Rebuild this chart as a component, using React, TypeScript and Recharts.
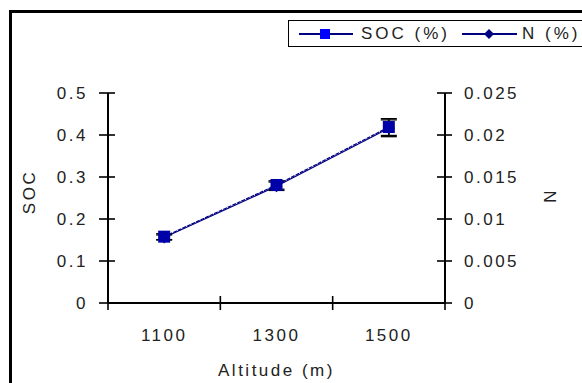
import React from 'react';
import { LineChart, Line, XAxis, YAxis, ErrorBar } from 'recharts';

// values
const altitudes = [1100, 1300, 1500];
const socValues = [0.158, 0.281, 0.419];
const socErrors = [0.007, 0.01, 0.02];
const nValues = [0.0078, 0.0139, 0.0208];
const nErrors = [0.0003, 0.0005, 0.001];

const xBoundaries = [1000, 1200, 1400, 1600];
const xTicks = [1000, 1100, 1200, 1300, 1400, 1500, 1600];
const socTicks = [0, 0.1, 0.2, 0.3, 0.4, 0.5];
const nTicks = [0, 0.005, 0.01, 0.015, 0.02, 0.025];

const data = altitudes.map((a, i) => ({
  altitude: a,
  soc: socValues[i],
  socErr: socErrors[i],
  n: nValues[i],
  nErr: nErrors[i],
}));

const FONT = '"Liberation Sans", Arial, sans-serif';
const textStyle = { fontFamily: FONT, fontSize: 17, letterSpacing: 2.5, fill: '#222' };

const LeftTick = (p: any) => {
  const ax = p.x + 8;
  return (
    <g>
      <line x1={ax - 9} x2={ax + 7} y1={p.y} y2={p.y} stroke="#000" strokeWidth={1.6} />
      <text x={ax - 20} y={p.y} textAnchor="end" dominantBaseline="central" style={textStyle}>
        {String(p.payload.value)}
      </text>
    </g>
  );
};

const RightTick = (p: any) => {
  const ax = p.x - 8;
  return (
    <g>
      <line x1={ax - 8} x2={ax + 7} y1={p.y} y2={p.y} stroke="#000" strokeWidth={1.6} />
      <text x={ax + 19} y={p.y} textAnchor="start" dominantBaseline="central" style={textStyle}>
        {String(p.payload.value)}
      </text>
    </g>
  );
};

const BottomTick = (p: any) => {
  const ay = p.y - 8;
  const v = p.payload.value;
  if (xBoundaries.includes(v)) {
    return <line x1={p.x} x2={p.x} y1={ay - 7} y2={ay + 7} stroke="#000" strokeWidth={1.6} />;
  }
  return (
    <text x={p.x} y={ay + 32} textAnchor="middle" dominantBaseline="central" style={textStyle}>
      {String(v)}
    </text>
  );
};

const SquareDot = (p: any) => (
  <rect key={'s' + p.index} x={p.cx - 6} y={p.cy - 6} width={12} height={12} fill="#0000a8" />
);

const DiamondDot = (p: any) => (
  <polygon
    key={'d' + p.index}
    points={`${p.cx},${p.cy - 6} ${p.cx + 6},${p.cy} ${p.cx},${p.cy + 6} ${p.cx - 6},${p.cy}`}
    fill="#000080"
  />
);

export default function App() {
  return (
    <div style={{ position: 'absolute', left: 0, top: 0, width: 582, height: 383, overflow: 'hidden', background: '#fff' }}>
      <div
        style={{
          position: 'absolute',
          left: 9,
          top: 10,
          width: 620,
          height: 420,
          borderTop: '3px solid #000',
          borderLeft: '3px solid #000',
        }}
      />
      <LineChart width={582} height={383} data={data} margin={{ top: 93, right: 0, bottom: 0, left: 0 }}>
        <XAxis
          dataKey="altitude"
          type="number"
          domain={[1000, 1600]}
          ticks={xTicks}
          interval={0}
          height={80}
          tickLine={false}
          axisLine={{ stroke: '#000', strokeWidth: 2 }}
          tick={<BottomTick />}
          label={(p: any) => (
            <text
              x={p.viewBox.x + p.viewBox.width / 2}
              y={p.viewBox.y + 67}
              textAnchor="middle"
              dominantBaseline="central"
              style={textStyle}
            >
              Altitude (m)
            </text>
          )}
        />
        <YAxis
          yAxisId="soc"
          orientation="left"
          domain={[0, 0.5]}
          ticks={socTicks}
          interval={0}
          width={108}
          tickLine={false}
          axisLine={{ stroke: '#000', strokeWidth: 2 }}
          tick={<LeftTick />}
          label={(p: any) => {
            const cx = p.viewBox.x + 29;
            const cy = p.viewBox.y + p.viewBox.height / 2 - 6;
            return (
              <text x={cx} y={cy} textAnchor="middle" dominantBaseline="central" transform={`rotate(-90 ${cx} ${cy})`} style={textStyle}>
                SOC
              </text>
            );
          }}
        />
        <YAxis
          yAxisId="n"
          orientation="right"
          domain={[0, 0.025]}
          ticks={nTicks}
          interval={0}
          width={137}
          tickLine={false}
          axisLine={{ stroke: '#000', strokeWidth: 2 }}
          tick={<RightTick />}
          label={(p: any) => {
            const cx = p.viewBox.x + 104;
            const cy = p.viewBox.y + p.viewBox.height / 2;
            return (
              <text x={cx} y={cy} textAnchor="middle" dominantBaseline="central" transform={`rotate(90 ${cx} ${cy})`} style={textStyle}>
                N
              </text>
            );
          }}
        />
        <Line
          yAxisId="n"
          dataKey="n"
          stroke="#000080"
          strokeWidth={1.2}
          dot={DiamondDot}
          isAnimationActive={false}
        >
          <ErrorBar dataKey="nErr" direction="y" width={8} stroke="#000" strokeWidth={1.3} />
        </Line>
        <Line
          yAxisId="soc"
          dataKey="soc"
          stroke="#000080"
          strokeWidth={1.2}
          strokeDasharray="4 1"
          dot={SquareDot}
          isAnimationActive={false}
        >
          <ErrorBar dataKey="socErr" direction="y" width={8} stroke="#000" strokeWidth={1.3} />
        </Line>
      </LineChart>
      <div
        style={{
          position: 'absolute',
          left: 288,
          top: 20,
          width: 320,
          height: 25,
          border: '1.5px solid #000',
          display: 'flex',
          alignItems: 'center',
          fontFamily: FONT,
          fontSize: 17,
          letterSpacing: 3,
          color: '#222',
          whiteSpace: 'nowrap',
        }}
      >
        <svg width={56} height={14} style={{ marginLeft: 10 }}>
          <line x1={0} x2={54} y1={7} y2={7} stroke="#000080" strokeWidth={2} />
          <rect x={21} y={2} width={10} height={10} fill="#0000ff" />
        </svg>
        <span style={{ marginLeft: 6 }}>SOC (%)</span>
        <svg width={56} height={14} style={{ marginLeft: 12 }}>
          <line x1={0} x2={55} y1={7} y2={7} stroke="#000080" strokeWidth={2} />
          <polygon points="27,2 32,7 27,12 22,7" fill="#000080" />
        </svg>
        <span style={{ marginLeft: 4 }}>N (%)</span>
      </div>
    </div>
  );
}
